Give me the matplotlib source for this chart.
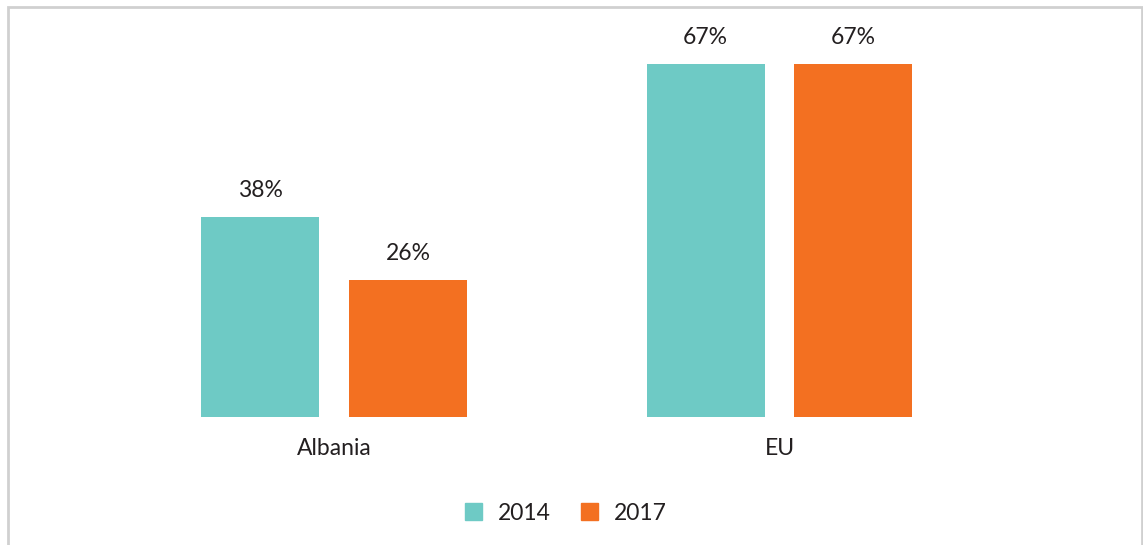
import matplotlib.pyplot as plt
from matplotlib.patches import Patch, Rectangle

plt.rcParams['font.family'] = ['Lato', 'DejaVu Sans']

regions = ["Albania", "EU"]
years = ["2014", "2017"]
share_2014 = [38, 67]
share_2017 = [26, 67]

teal = "#6ECAC5"
orange = "#F37021"
dark = "#231F20"
fs = 16.5

fig = plt.figure(figsize=(11.43, 5.45), dpi=100)
ax = fig.add_axes([0, (545 - 417) / 545, 1, (417 - 7) / 545])

w = 0.265
off = 0.166
x = range(len(regions))
b1 = ax.bar([i - off for i in x], share_2014, w, color=teal)
b2 = ax.bar([i + off for i in x], share_2017, w, color=orange)

for bars in (b1, b2):
    for b in bars:
        ax.annotate(f"{b.get_height():.0f}%", (b.get_x() + b.get_width() / 2, b.get_height()),
                    xytext=(0, 19), textcoords="offset points", ha="center", va="center",
                    fontsize=fs, color=dark)

ax.set_xlim(-334 / 445.5, (1143 - 334) / 445.5)
ax.set_ylim(0, (417 - 7) / 5.27)
ax.set_xticks(list(x))
ax.set_xticklabels(regions, fontsize=fs, color=dark)
ax.tick_params(axis="x", length=0, pad=15)
ax.set_yticks([])
for s in ax.spines.values():
    s.set_visible(False)
ax.patch.set_alpha(0)

# light grey frame around the chart
fig.patches.append(Rectangle((8 / 1143, -0.1), (1142 - 8) / 1143, 1.1 - 7 / 545,
                             transform=fig.transFigure, fill=False,
                             edgecolor="#D0D0D0", linewidth=2))

handles = [Patch(color=teal), Patch(color=orange)]
fig.legend(handles, years, loc="center", bbox_to_anchor=(566 / 1143, 1 - 513 / 545),
           ncol=2, frameon=False, fontsize=fs, handlelength=0.74, handleheight=0.74,
           handletextpad=0.7, columnspacing=1.3, labelcolor=dark)

fig.savefig("out.png", dpi=100)
